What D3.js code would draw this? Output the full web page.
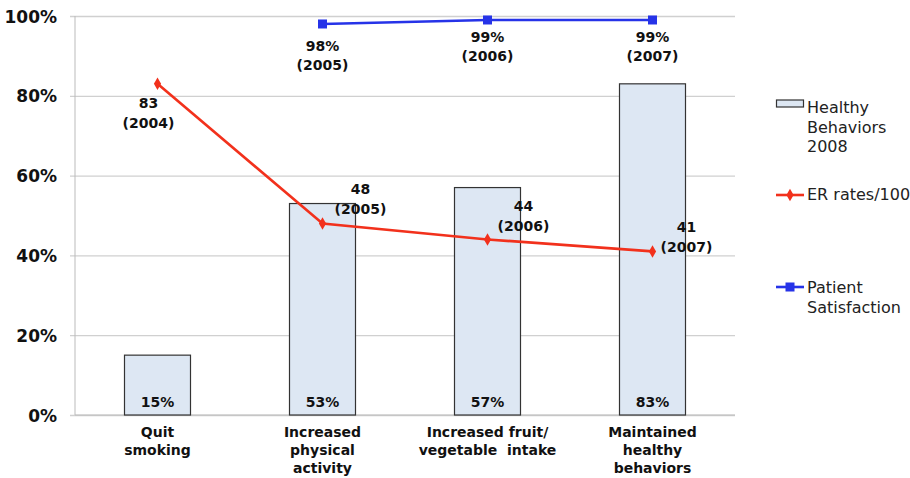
<!DOCTYPE html>
<html>
<head>
<meta charset="utf-8">
<script src="https://cdn.jsdelivr.net/npm/d3@7"></script>
<style>
  body { margin: 0; background: #fff; }
  text { font-family: "DejaVu Sans", Arial, sans-serif; }
</style>
</head>
<body>
<svg id="chart" width="910" height="478"></svg>
<script>
const categories = [
  ['Quit', 'smoking'],
  ['Increased', 'physical', 'activity'],
  ['Increased fruit/', 'vegetable  intake'],
  ['Maintained', 'healthy', 'behaviors']
]
const behaviors = [15, 53, 57, 83]
const erRates = [83, 48, 44, 41]
const erYears = ['2004', '2005', '2006', '2007']
const satisfaction = [null, 98, 99, 99]
const satYears = [null, '2005', '2006', '2007']
const yTicks = [0, 20, 40, 60, 80, 100]

const margin = {left: 75, right: 175, top: 16, bottom: 63}
const svgWidth = 910, svgHeight = 478
const innerWidth = svgWidth - margin.left - margin.right
const innerHeight = svgHeight - margin.top - margin.bottom

const svg = d3.select('#chart')
const g = svg.append('g').attr('transform', `translate(${margin.left},${margin.top})`)

const idx = d3.range(categories.length)
const xScale = d3.scaleBand().domain(idx).range([0, innerWidth]).paddingInner(0.6).paddingOuter(0.3)
const cx = i => xScale(i) + xScale.bandwidth() / 2
const yScale = d3.scaleLinear().domain([0, 100]).range([innerHeight, 0])

const bold = (sel, size) => sel.style('font-size', size + 'px').style('font-weight', 'bold').attr('fill', '#111')

// grid + y axis
g.append('g')
  .call(d3.axisLeft(yScale).tickValues(yTicks).tickSize(-innerWidth).tickFormat(d => d + '%'))
  .call(a => a.select('.domain').remove())
  .call(a => a.selectAll('line').attr('stroke', '#d0d0d0').attr('stroke-width', 1.3).attr('x1', -5))
  .call(a => a.selectAll('text')
    .attr('x', -18).attr('dy', '0.36em')
    .style('font-size', '17px').style('font-weight', 'bold').attr('fill', '#111'))

g.append('line').attr('x1', 0).attr('x2', 0).attr('y1', 0).attr('y2', innerHeight)
  .attr('stroke', '#bbb')
g.append('line').attr('x1', 0).attr('x2', innerWidth).attr('y1', innerHeight).attr('y2', innerHeight)
  .attr('stroke', '#bbb')

// bars
g.selectAll('rect.bar')
  .data(behaviors)
  .join('rect')
  .attr('class', 'bar')
  .attr('x', (d, i) => xScale(i))
  .attr('y', d => yScale(d))
  .attr('width', xScale.bandwidth())
  .attr('height', d => innerHeight - yScale(d))
  .attr('fill', '#dde7f3')
  .attr('stroke', '#333')
  .attr('stroke-width', 1.2)

g.selectAll('text.barlab')
  .data(behaviors)
  .join('text')
  .attr('class', 'barlab')
  .attr('x', (d, i) => cx(i))
  .attr('y', innerHeight - 8)
  .attr('text-anchor', 'middle')
  .call(bold, 14)
  .text(d => d + '%')

// x labels
categories.forEach((lines, i) => {
  const t = g.append('text')
    .attr('x', cx(i)).attr('y', innerHeight + 22)
    .attr('text-anchor', 'middle')
    .call(bold, 14)
  lines.forEach((l, k) => t.append('tspan').attr('x', cx(i)).attr('dy', k ? 18 : 0)
    .style('white-space', 'pre').text(l))
})

// ER line
const red = '#f2311c'
const erLine = d3.line().x((d, i) => cx(i)).y(d => yScale(d))
g.append('path').datum(erRates).attr('d', erLine)
  .attr('fill', 'none').attr('stroke', red).attr('stroke-width', 2.6)
g.selectAll('path.erpt').data(erRates).join('path').attr('class', 'erpt')
  .attr('transform', (d, i) => `translate(${cx(i)},${yScale(d)})`)
  .attr('d', d3.symbol(d3.symbolDiamond, 45)).attr('fill', red)

const erOff = [[-9, 24], [38, -29], [36, -28], [34, -19]]
erRates.forEach((d, i) => {
  const x = cx(i) + erOff[i][0], y = yScale(d) + erOff[i][1]
  const t = g.append('text').attr('text-anchor', 'middle').call(bold, 14)
  t.append('tspan').attr('x', x).attr('y', y).text(d)
  t.append('tspan').attr('x', x).attr('y', y + 20).text('(' + erYears[i] + ')')
})

// satisfaction line
const blue = '#2633e8'
const satData = satisfaction.map((d, i) => ({i, d})).filter(p => p.d != null)
g.append('path').datum(satData)
  .attr('d', d3.line().x(p => cx(p.i)).y(p => yScale(p.d)))
  .attr('fill', 'none').attr('stroke', blue).attr('stroke-width', 2.6)
g.selectAll('rect.satpt').data(satData).join('rect').attr('class', 'satpt')
  .attr('x', p => cx(p.i) - 4.5).attr('y', p => yScale(p.d) - 4.5)
  .attr('width', 9).attr('height', 9).attr('fill', blue)
const satOff = [null, 27, 22, 22]
satData.forEach(p => {
  const x = cx(p.i), y = yScale(p.d) + satOff[p.i]
  const t = g.append('text').attr('text-anchor', 'middle').call(bold, 14)
  t.append('tspan').attr('x', x).attr('y', y).text(p.d + '%')
  t.append('tspan').attr('x', x).attr('y', y + 19.5).text('(' + satYears[p.i] + ')')
})

// legend
const lg = svg.append('g').attr('transform', 'translate(776,0)')
const legText = (lines, y) => {
  const t = lg.append('text').style('font-size', '16px').attr('fill', '#222')
  lines.forEach((l, k) => t.append('tspan').attr('x', 31).attr('y', y + k * 19.5).text(l))
}
lg.append('rect').attr('x', 0.5).attr('y', 100).attr('width', 27).attr('height', 7)
  .attr('fill', '#dde7f3').attr('stroke', '#333').attr('stroke-width', 1.2)
legText(['Healthy', 'Behaviors', '2008'], 113)

lg.append('line').attr('x1', 0).attr('x2', 28).attr('y1', 195).attr('y2', 195)
  .attr('stroke', red).attr('stroke-width', 2.6)
lg.append('path').attr('transform', 'translate(14,195)')
  .attr('d', d3.symbol(d3.symbolDiamond, 45)).attr('fill', red)
legText(['ER rates/100'], 200)

lg.append('line').attr('x1', 0).attr('x2', 28).attr('y1', 287).attr('y2', 287)
  .attr('stroke', blue).attr('stroke-width', 2.6)
lg.append('rect').attr('x', 9.5).attr('y', 282.5).attr('width', 9).attr('height', 9).attr('fill', blue)
legText(['Patient', 'Satisfaction'], 293)
</script>
</body>
</html>
